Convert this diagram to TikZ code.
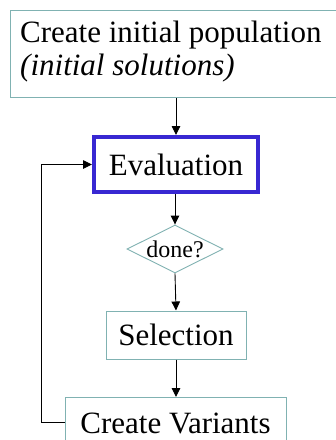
\documentclass[tikz,border=0pt]{standalone}
\usepackage{fontspec}
\setmainfont{Liberation Serif}
\usetikzlibrary{shapes.geometric,arrows.meta}
\definecolor{tealb}{RGB}{128,178,178}
\definecolor{blueb}{RGB}{56,40,210}
\tikzset{
  box/.style={draw=tealb,line width=1pt,fill=white,inner sep=0pt},
  arr/.style={-{Triangle[length=9pt,width=8.5pt]},line width=0.9pt,black},
  lbl/.style={font=\fontsize{31}{33}\selectfont},
}
\begin{document}
\begin{tikzpicture}[x=1pt,y=-1pt]
\useasboundingbox (0,0) rectangle (336,440);
% top box
\node[box,minimum width=326pt,minimum height=87pt,anchor=north west] (init) at (10,10) {};
\node[lbl,anchor=base west,inner sep=0pt] (t1) at (20,42) {Create initial population};
\node[lbl,anchor=base west,inner sep=0pt] (t2) at (20,75) {\itshape (initial solutions)};
% evaluation
\node[draw=blueb,line width=4pt,fill=white,minimum width=164pt,minimum height=55pt,inner sep=0pt,lbl] (eval) at (176,164.5) {Evaluation};
% diamond
\node[diamond,draw=tealb,line width=0.9pt,fill=white,aspect=2,minimum width=96pt,minimum height=48pt,inner sep=0pt] (done) at (175,249) {};
\node[font=\fontsize{24}{26}\selectfont,inner sep=0pt] (donet) at (175,249) {done?};
% selection
\node[box,lbl,minimum width=140pt,minimum height=48pt] (sel) at (176,335) {Selection};
% create variants
\node[box,minimum width=221pt,minimum height=60pt,anchor=north west] (var) at (65,397) {};
\node[lbl,inner sep=0pt,anchor=base] (vart) at (175.5,433) {Create Variants};
% arrows
\draw[arr] (init.south -| eval.north) -- (eval.north);
\draw[arr] (eval.south -| done.north) -- (done.north);
\draw[arr] (done.south) -- (sel.north);
\draw[arr] (sel.south) -- (sel.south |- var.north);
\coordinate (vl) at (65,422);
\coordinate (c1) at (41,422);
\coordinate (c2) at (41,164.5);
\draw[arr] (vl) -- (c1) -- (c2) -- (eval.west);
\end{tikzpicture}
\end{document}
